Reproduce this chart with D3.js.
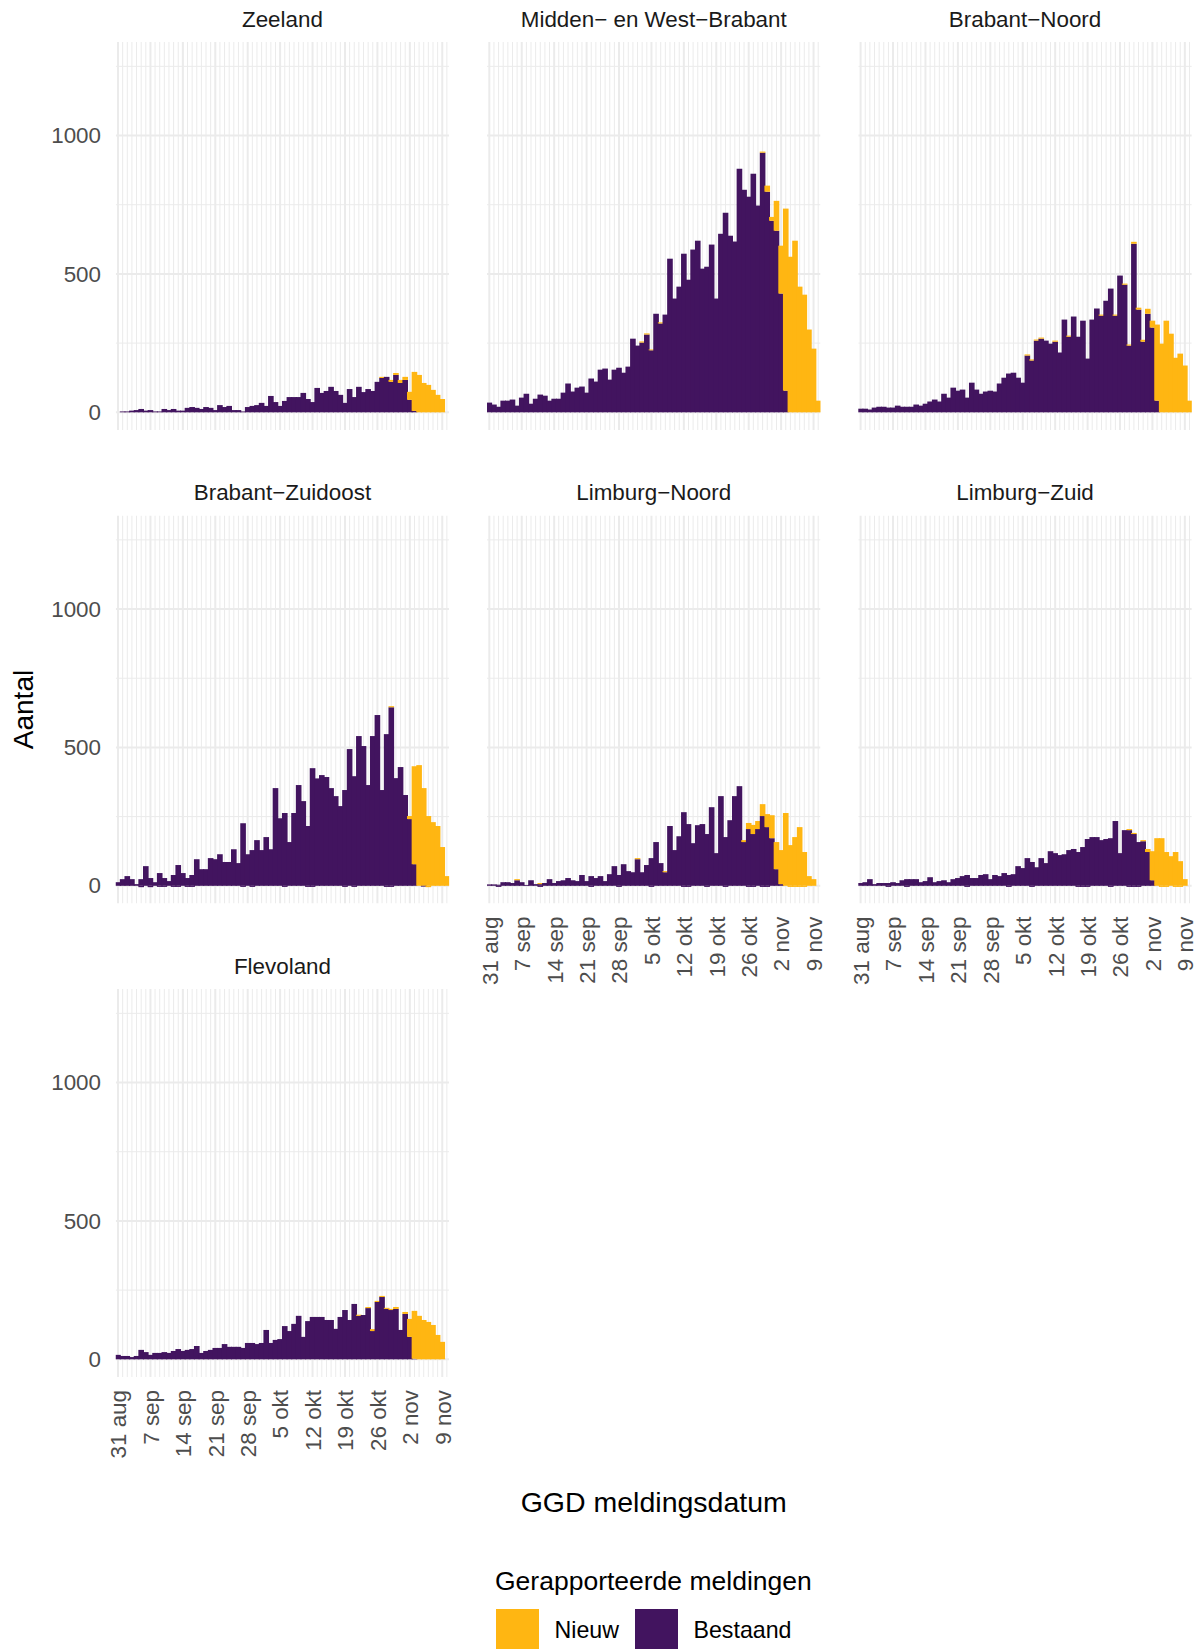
<!DOCTYPE html>
<html>
<head>
<meta charset="utf-8">
<script src="https://cdn.jsdelivr.net/npm/d3@7"></script>
<style>
body { margin: 0; background: #fff; }
svg text { font-family: "Liberation Sans", Arial, sans-serif; }
</style>
</head>
<body>
<script>
// GGD regions, in facet order
const regions = ["Zeeland", "Midden\u2212 en West\u2212Brabant", "Brabant\u2212Noord",
  "Brabant\u2212Zuidoost", "Limburg\u2212Noord", "Limburg\u2212Zuid", "Flevoland"];

// daily counts 31 aug .. 10 nov (72 days): Bestaand (existing) and Nieuw (new)
const zeelandB = [0,3,3,6,8,12,6,8,3,3,12,8,12,6,6,16,19,16,12,19,16,8,26,19,23,8,8,3,19,23,26,34,23,59,37,23,41,55,55,55,70,48,37,88,70,77,92,77,63,34,84,55,92,73,84,77,110,124,128,110,135,106,117,45,5,0,0,0,0,0,0,0];
const zeelandN = [0,0,0,0,0,0,0,0,0,0,0,0,0,0,0,0,0,0,0,0,0,0,0,0,0,0,0,0,0,0,0,0,0,0,0,0,0,0,0,0,0,0,0,0,0,0,0,0,0,0,0,0,0,0,0,0,0,4,0,7,7,11,11,29,141,135,106,99,81,63,48,0];
const mwbB = [35,28,20,42,42,46,24,53,67,31,49,64,60,42,49,49,71,104,75,89,93,71,122,111,154,158,118,154,161,143,165,266,241,252,281,224,356,321,353,555,411,454,573,479,588,620,519,526,606,411,645,721,638,617,880,804,779,862,747,938,797,692,656,429,78,0,0,0,0,0,0,0];
const mwbN = [0,0,0,0,0,0,0,0,0,0,0,0,0,0,0,0,0,0,0,0,0,0,0,0,0,0,0,0,0,0,0,0,0,4,4,3,0,4,0,0,0,0,0,0,0,0,0,0,0,0,0,0,0,0,0,0,0,0,0,4,22,14,108,173,658,562,620,454,425,299,230,42];
const bnB = [13,13,10,17,20,20,17,17,24,20,20,20,28,24,31,39,46,39,67,53,89,78,82,53,107,82,67,75,78,75,104,125,140,143,125,107,205,187,259,266,259,248,255,216,335,273,346,273,331,194,335,375,349,403,447,349,494,461,241,609,371,255,356,306,42,0,0,0,0,0,0,0];
const bnN = [0,0,0,0,0,0,0,0,0,0,0,0,0,0,0,0,0,0,0,0,0,0,0,0,0,0,0,0,0,0,0,0,0,0,0,0,4,4,4,4,0,0,4,0,0,4,0,0,0,0,0,0,4,0,0,4,0,4,4,7,7,7,18,25,275,248,331,284,197,212,169,42];
const bzoB = [13,24,35,24,6,24,71,28,13,46,28,17,39,75,46,28,39,96,60,60,100,96,114,86,86,132,82,226,114,129,165,129,176,132,353,244,263,158,263,364,306,216,425,388,400,393,353,324,288,346,494,396,541,505,364,541,617,346,548,645,389,429,328,241,78,0,0,0,0,0,0,0];
const bzoN = [0,0,0,0,0,0,0,0,0,0,0,0,0,0,0,0,0,0,0,0,0,0,0,0,0,0,0,0,0,0,0,0,0,0,0,0,0,0,0,0,0,0,0,0,0,0,0,0,0,0,0,0,0,0,0,0,0,0,0,4,0,0,0,11,354,436,353,252,230,216,140,35];
const lnB = [5,5,4,13,13,10,20,13,3,20,6,6,10,24,10,17,20,28,20,17,39,17,35,28,35,17,42,71,39,78,53,49,96,49,75,100,158,82,49,216,129,179,266,223,154,219,223,187,284,118,324,176,237,324,360,158,205,187,205,252,212,172,60,6,0,0,0,0,0,0,0,0];
const lnN = [0,0,0,0,0,0,4,0,0,0,0,4,0,0,0,0,0,0,0,0,0,0,0,0,0,0,0,0,0,0,0,0,4,0,0,0,0,0,4,0,0,0,0,0,0,0,0,0,0,0,0,0,0,0,0,7,22,33,29,43,47,83,98,123,263,147,176,212,122,35,24,0];
const lzB = [10,13,24,6,10,10,10,13,10,20,24,24,24,13,17,31,13,17,20,13,24,28,35,39,28,28,39,42,24,39,35,46,39,42,71,64,100,86,67,100,82,125,118,111,114,129,133,122,140,169,176,176,165,169,172,234,118,201,201,187,158,161,122,20,0,0,0,0,0,0,0,0];
const lzN = [0,0,0,0,0,0,0,0,0,0,0,0,0,0,0,0,0,0,0,0,0,0,0,0,0,0,0,0,0,0,0,0,0,0,0,0,0,0,0,0,0,0,0,0,0,0,0,0,0,0,0,0,0,0,0,0,0,0,4,4,0,4,11,105,172,172,122,107,122,89,24,0];
const flB = [16,12,12,8,12,34,26,16,23,23,26,23,30,37,30,34,37,48,23,30,34,41,41,55,45,45,45,41,59,59,55,59,106,59,70,73,120,102,128,157,81,138,153,153,153,142,142,110,153,178,142,200,157,160,185,102,207,225,182,178,182,106,164,81,2,0,0,0,0,0,0,0];
const flN = [0,0,0,0,0,0,0,0,0,0,0,0,0,0,0,0,0,0,0,0,0,0,0,0,0,0,0,0,0,0,0,0,0,0,0,0,0,0,0,0,0,0,0,0,0,0,0,0,0,0,0,0,4,0,4,7,4,4,4,4,7,0,7,65,173,157,142,135,124,88,63,0];

// small negative corrections [day index, value]
const bzoNegB = [[5,-5],[7,-5],[9,-4],[10,-4],[12,-4],[13,-4],[15,-4],[16,-4],[27,-4],[29,-4],[36,-4],[41,-4],[42,-4],[49,-4],[51,-4],[58,-4],[59,-4],[66,-3]];
const bzoNegN = [[67,-5]];
const lnNegB = [[2,-4],[11,-4],[22,-4],[28,-4],[35,-4],[42,-4],[43,-4],[47,-4],[51,-4],[56,-4],[57,-4],[59,-4],[60,-4]];
const lnNegN = [[65,-4],[66,-4],[67,-4],[68,-4]];
const lzNegB = [[6,-4],[10,-4],[23,-4],[32,-4],[37,-4],[47,-4],[48,-4],[49,-4],[54,-4],[58,-4],[59,-4],[60,-4]];
const lzNegN = [[65,-4],[66,-4],[68,-4],[69,-4]];

const tickLabels = ["31 aug","7 sep","14 sep","21 sep","28 sep","5 okt","12 okt","19 okt","26 okt","2 nov","9 nov"];
const yTicks = [0, 500, 1000];
const yMinor = [250, 750, 1250];
const legendLabels = ["Nieuw", "Bestaand"];

const series = [
  {B: zeelandB, N: zeelandN, negB: [], negN: []},
  {B: mwbB, N: mwbN, negB: [], negN: []},
  {B: bnB, N: bnN, negB: [], negN: []},
  {B: bzoB, N: bzoN, negB: bzoNegB, negN: bzoNegN},
  {B: lnB, N: lnN, negB: lnNegB, negN: lnNegN},
  {B: lzB, N: lzN, negB: lzNegB, negN: lzNegN},
  {B: flB, N: flN, negB: [], negN: []}
];

const W = 1203, H = 1649;
const colX = [115.7, 487, 858.3], rowY = [42, 515.5, 989];
const pw = 333.5, ph = 388;
const yellow = "#ffb612", purple = "#42145f", grid = "#ebebeb";

const days = d3.utcDay.range(Date.UTC(2020, 7, 31), Date.UTC(2020, 10, 11));
const half = 12 * 3600 * 1000;
const weekly = days.filter((d, i) => i % 7 === 0);
const minorDays = days.filter((d, i) => i % 7 !== 0);

const x = d3.scaleUtc()
  .domain([+days[0] - half, +days[days.length - 1] + half])
  .range([0, pw]);
const y = d3.scaleLinear().domain([-64, 1338]).range([ph, 0]);

const svg = d3.select("body").append("svg")
  .attr("width", W).attr("height", H);

svg.append("defs").append("clipPath").attr("id", "clip")
  .append("rect").attr("width", pw).attr("height", ph);

regions.forEach((name, k) => {
  const r = Math.floor(k / 3), c = k % 3;
  const s = series[k];
  const g = svg.append("g").attr("transform", `translate(${colX[c]},${rowY[r]})`);

  // gridlines
  const gg = g.append("g").attr("clip-path", "url(#clip)");
  gg.selectAll(".vmin").data(minorDays).enter().append("line")
    .attr("x1", d => x(d)).attr("x2", d => x(d))
    .attr("y1", 0).attr("y2", ph)
    .attr("stroke", grid).attr("stroke-width", 1);
  gg.selectAll(".vmaj").data(weekly).enter().append("line")
    .attr("x1", d => x(d)).attr("x2", d => x(d))
    .attr("y1", 0).attr("y2", ph)
    .attr("stroke", grid).attr("stroke-width", 2);
  gg.selectAll(".hmin").data(yMinor).enter().append("line")
    .attr("x1", 0).attr("x2", pw)
    .attr("y1", d => y(d)).attr("y2", d => y(d))
    .attr("stroke", grid).attr("stroke-width", 1);
  gg.selectAll(".hmaj").data(yTicks).enter().append("line")
    .attr("x1", 0).attr("x2", pw)
    .attr("y1", d => y(d)).attr("y2", d => y(d))
    .attr("stroke", grid).attr("stroke-width", 2);

  // stacked bars
  const rows = [];
  days.forEach((d, i) => {
    const b = s.B[i], n = s.N[i];
    if (b > 0) rows.push({d, y0: 0, y1: b, fill: purple});
    if (n > 0) rows.push({d, y0: b, y1: b + n, fill: yellow});
  });
  s.negB.forEach(([i, v]) => rows.push({d: days[i], y0: v, y1: 0, fill: purple}));
  s.negN.forEach(([i, v]) => {
    const nb = (s.negB.find(p => p[0] === i) || [i, 0])[1];
    rows.push({d: days[i], y0: nb + v, y1: nb, fill: yellow});
  });
  // overlap half a pixel so neighbouring bars show no seams
  g.append("g").attr("clip-path", "url(#clip)")
    .selectAll("rect").data(rows).enter().append("rect")
    .attr("x", d => x(+d.d - half) - 0.5)
    .attr("width", d => x(+d.d + half) - x(+d.d - half) + 1)
    .attr("y", d => y(d.y1))
    .attr("height", d => y(d.y0) - y(d.y1))
    .attr("fill", d => d.fill);

  // strip title
  g.append("text")
    .attr("x", pw / 2).attr("y", -15.3)
    .attr("text-anchor", "middle")
    .attr("font-size", 22.4)
    .attr("fill", "#1a1a1a")
    .text(name);

  if (c === 0) {
    const ya = g.append("g")
      .call(d3.axisLeft(y).tickValues(yTicks).tickSize(0).tickPadding(14.7)
        .tickFormat(d3.format("d")));
    ya.select(".domain").remove();
    ya.selectAll("text")
      .attr("font-size", 22.4)
      .attr("fill", "#4d4d4d")
      .attr("font-family", "Liberation Sans, Arial, sans-serif");
  }

  const bottom = (c === 0 && r === 2) || (c > 0 && r === 1);
  if (bottom) {
    const xa = g.append("g").attr("transform", `translate(0,${ph})`)
      .call(d3.axisBottom(x).tickValues(weekly).tickSize(0)
        .tickFormat((d, i) => tickLabels[i]));
    xa.select(".domain").remove();
    xa.selectAll("text")
      .attr("transform", "rotate(-90)")
      .attr("x", -13).attr("y", 0).attr("dy", "0.35em")
      .attr("text-anchor", "end")
      .attr("font-size", 22.4)
      .attr("fill", "#4d4d4d")
      .attr("font-family", "Liberation Sans, Arial, sans-serif");
  }
});

// axis titles
svg.append("text")
  .attr("transform", `translate(33,${(rowY[0] + rowY[2] + ph) / 2}) rotate(-90)`)
  .attr("text-anchor", "middle")
  .attr("font-size", 28)
  .text("Aantal");

svg.append("text")
  .attr("x", (colX[0] + colX[2] + pw) / 2).attr("y", 1511.7)
  .attr("text-anchor", "middle")
  .attr("font-size", 28.5)
  .text("GGD meldingsdatum");

// legend
const lg = svg.append("g");
lg.append("text")
  .attr("x", 495).attr("y", 1590)
  .attr("font-size", 26.5)
  .text("Gerapporteerde meldingen");
const keyX = [496, 635];
const keyCol = [yellow, purple];
legendLabels.forEach((lab, i) => {
  lg.append("rect")
    .attr("x", keyX[i]).attr("y", 1609)
    .attr("width", 43).attr("height", 43)
    .attr("fill", keyCol[i]);
  lg.append("text")
    .attr("x", keyX[i] + 58.5).attr("y", 1638)
    .attr("font-size", 23.2)
    .text(lab);
});
</script>
</body>
</html>
